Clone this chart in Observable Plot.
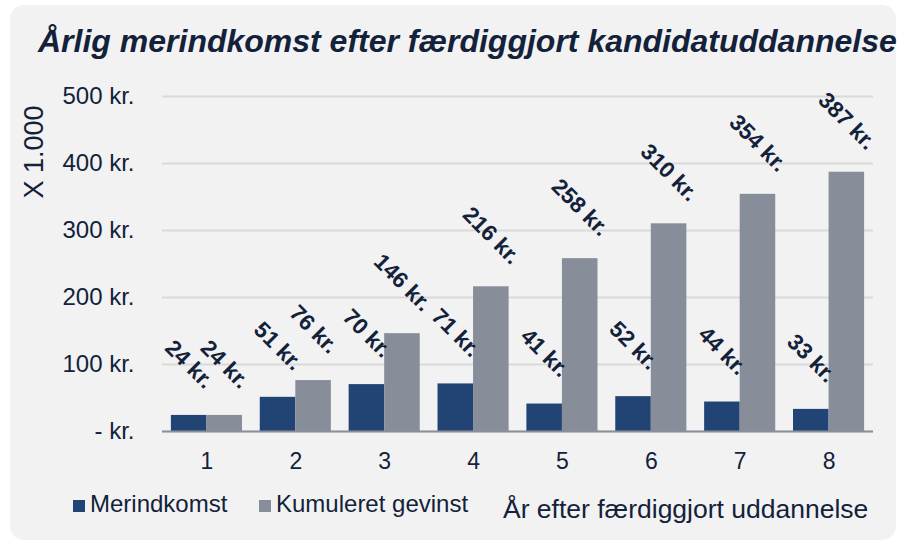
<!DOCTYPE html>
<html><head><meta charset="utf-8">
<script src="https://cdn.jsdelivr.net/npm/d3@7"></script>
<script src="https://cdn.jsdelivr.net/npm/@observablehq/plot@0.6"></script>
<style>
body{margin:0;background:#fff;}
#wrap{position:relative;width:901px;height:541px;overflow:hidden;font-family:"Liberation Sans",Arial,sans-serif;}
#panel{position:absolute;left:10px;top:5px;width:886px;height:535px;background:#f2f2f2;border-radius:14px;}
#chart,#over{position:absolute;left:0;top:0;}
</style></head><body>
<div id="wrap"><div id="panel"></div><div id="chart"></div>
<svg id="over" width="901" height="541" font-family="Liberation Sans, Arial, sans-serif"></svg></div>
<script>
const years = [1,2,3,4,5,6,7,8];
const merindkomst = [24,51,70,71,41,52,44,33];
const kumuleret = [24,76,146,216,258,310,354,387];
const yTicks = [0,100,200,300,400,500];
const seriesNames = ["Merindkomst","Kumuleret gevinst"];
const colors = ["#224474","#878d99"];
const titleText = "Årlig merindkomst efter færdiggjort kandidatuddannelse";
const yLabel = "X 1.000";
const xLabel = "År efter færdiggjort uddannelse";
const textColor = "#13223a";

const navyData = years.map((yr,i)=>({year:yr, series:seriesNames[0], value:merindkomst[i]}));
const grayData = years.map((yr,i)=>({year:yr, series:seriesNames[1], value:kumuleret[i]}));
const half = 711*0.8/8/2;
const fmt = v => v + " kr.";

const plot = Plot.plot({
  width:901, height:541,
  marginTop:96, marginBottom:110, marginLeft:162, marginRight:28,
  style:{background:"transparent", fontFamily:"Liberation Sans, Arial, sans-serif", color:textColor},
  x:{type:"band", domain:years, paddingInner:0.2, paddingOuter:0.1, round:false, label:null, axis:null},
  y:{domain:[0,500], label:null, axis:null},
  marks:[
    Plot.gridY(yTicks,{stroke:"#d9d9d9", strokeOpacity:1, strokeWidth:2}),
    Plot.barY(navyData,{x:"year", y:"value", fill:colors[0], insetRight:half}),
    Plot.barY(grayData,{x:"year", y:"value", fill:colors[1], insetLeft:half}),
    Plot.ruleY([0],{stroke:"#8a909b", strokeWidth:2}),
    Plot.axisY(yTicks,{tickSize:0, tickPadding:28, fontSize:24, label:null, tickFormat:v => v===0 ? "- kr." : fmt(v), fill:textColor}),
    Plot.axisX(years,{tickSize:0, tickPadding:21, fontSize:23, label:null, fill:textColor}),
    Plot.text(navyData,{x:"year", y:"value", text:d=>fmt(d.value), rotate:45, dx:-half/2, dy:-51, fontWeight:"bold", fontSize:22.5, fill:textColor}),
    Plot.text(grayData,{x:"year", y:"value", text:d=>fmt(d.value), rotate:45, dx:half/2, dy:-51, fontWeight:"bold", fontSize:22.5, fill:textColor})
  ]
});
document.getElementById("chart").appendChild(plot);

const over = d3.select("#over");
over.append("text").attr("x",38).attr("y",52).attr("font-size",32).attr("font-weight","bold").attr("font-style","italic").attr("fill",textColor).text(titleText);
over.append("text").attr("transform","translate(43,152) rotate(-90)").attr("text-anchor","middle").attr("font-size",27).attr("fill",textColor).text(yLabel);
const legX = [73,259];
seriesNames.forEach((s,i)=>{
  over.append("rect").attr("x",legX[i]).attr("y",500).attr("width",12).attr("height",12).attr("fill",colors[i]);
  over.append("text").attr("x",legX[i]+17).attr("y",512).attr("font-size",24).attr("fill",textColor).text(s);
});
over.append("text").attr("x",503).attr("y",518).attr("font-size",26.5).attr("fill",textColor).text(xLabel);
</script>
</body></html>
